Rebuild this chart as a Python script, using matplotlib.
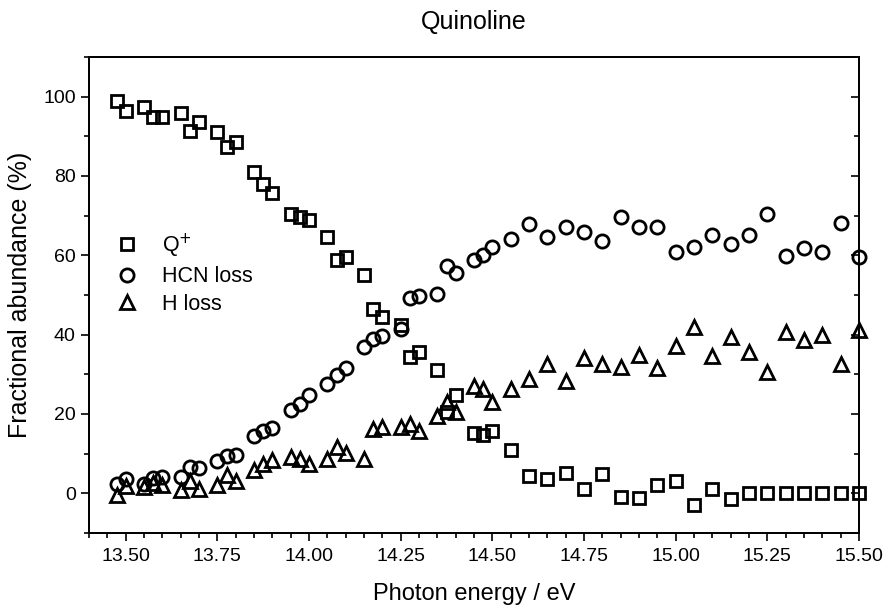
import matplotlib
matplotlib.use("Agg")
import matplotlib.pyplot as plt
from matplotlib.ticker import MultipleLocator, FormatStrFormatter

plt.rcParams['font.family'] = ['Liberation Sans', 'DejaVu Sans']

# photon energies (eV)
energy = [13.475, 13.50, 13.55, 13.575, 13.60, 13.65, 13.675, 13.70, 13.75, 13.775,
          13.80, 13.85, 13.875, 13.90, 13.95, 13.975, 14.00, 14.05, 14.075, 14.10,
          14.15, 14.175, 14.20, 14.25, 14.275, 14.30, 14.35, 14.375, 14.40, 14.45,
          14.475, 14.50, 14.55, 14.60, 14.65, 14.70, 14.75, 14.80, 14.85, 14.90,
          14.95, 15.00, 15.05, 15.10, 15.15, 15.20, 15.25, 15.30, 15.35, 15.40,
          15.45, 15.50]

q_plus = [98.8, 96.4, 97.5, 95.0, 95.0, 96.0, 91.3, 93.6, 91.0, 87.2,
          88.5, 80.9, 78.0, 75.7, 70.4, 69.7, 69.0, 64.6, 58.9, 59.5,
          55.1, 46.5, 44.5, 42.5, 34.3, 35.6, 31.2, 20.6, 24.7, 15.3,
          14.8, 15.7, 10.9, 4.3, 3.7, 5.2, 1.1, 4.8, -0.9, -1.3,
          2.0, 3.1, -3.0, 1.0, -1.5, 0.0, 0.0, 0.0, 0.0, 0.0,
          0.0, 0.0]

hcn_loss = [2.4, 3.5, 2.3, 3.9, 4.2, 4.1, 6.6, 6.4, 8.1, 9.4,
            9.6, 14.4, 15.7, 16.5, 21.1, 22.6, 24.8, 27.6, 29.8, 31.6,
            36.9, 38.9, 39.6, 41.5, 49.3, 49.7, 50.3, 57.2, 55.6, 58.7,
            60.0, 62.1, 64.0, 67.9, 64.6, 67.1, 65.8, 63.6, 69.6, 67.2,
            67.2, 60.9, 62.0, 65.1, 62.9, 65.2, 70.3, 59.8, 61.9, 60.8,
            68.2, 59.5]

h_loss = [-0.3, 1.8, 1.7, 2.7, 2.2, 0.8, 3.2, 1.2, 2.2, 4.6,
          3.0, 5.8, 7.3, 8.5, 9.2, 8.6, 7.3, 8.7, 11.8, 10.1,
          8.6, 16.1, 16.8, 16.8, 17.4, 15.7, 19.5, 23.1, 20.6, 27.0,
          26.2, 23.1, 26.4, 28.7, 32.6, 28.4, 34.0, 32.5, 31.9, 34.8,
          31.5, 37.1, 41.9, 34.7, 39.4, 35.7, 30.6, 40.6, 38.6, 40.0,
          32.7, 41.3]

fig = plt.figure(figsize=(8.88, 6.08), dpi=100)
ax = fig.add_axes([89/888, 1 - 533/608, (859 - 89)/888, (533 - 57)/608])

style = dict(linestyle='none', markerfacecolor='none', markeredgecolor='black',
             markeredgewidth=2.0, clip_on=False)
ax.plot(energy, q_plus, marker='s', markersize=8.5, label='Q$^{+}$', **style)
ax.plot(energy, hcn_loss, marker='o', markersize=9.5, label='HCN loss', **style)
ax.plot(energy, h_loss, marker='^', markersize=10.5, label='H loss', **style)

ax.set_xlim(13.4, 15.5)
ax.set_ylim(-10, 110)
ax.xaxis.set_major_locator(MultipleLocator(0.25))
ax.xaxis.set_minor_locator(MultipleLocator(0.05))
ax.xaxis.set_major_formatter(FormatStrFormatter('%.2f'))
ax.yaxis.set_major_locator(MultipleLocator(20))
ax.yaxis.set_minor_locator(MultipleLocator(10))

ax.tick_params(axis='x', which='both', direction='out', top=False)
ax.tick_params(axis='y', which='both', direction='out', right=False)
ax.tick_params(which='major', length=6, width=1.2, labelsize=14)
ax.tick_params(which='minor', length=3.5, width=1.2)
ax.tick_params(axis='x', pad=5)

# inward ticks on the right spine
ax2 = ax.twinx()
ax2.set_ylim(ax.get_ylim())
ax2.yaxis.set_major_locator(MultipleLocator(20))
ax2.yaxis.set_minor_locator(MultipleLocator(10))
ax2.tick_params(axis='y', which='both', direction='in', labelright=False)
ax2.tick_params(which='major', length=6, width=1.2)
ax2.tick_params(which='minor', length=3.5, width=1.2)

for a in (ax, ax2):
    for sp in a.spines.values():
        sp.set_linewidth(1.3)

ax.set_xlabel('Photon energy / eV', fontsize=17, labelpad=13)
ax.set_ylabel('Fractional abundance (%)', fontsize=18, labelpad=8)
ax.set_title('Quinoline', fontsize=18, pad=20)

ax.legend(loc='upper left', bbox_to_anchor=(-0.012, 0.688), frameon=False,
          fontsize=15.5, handletextpad=0.6, labelspacing=0.3, borderaxespad=0.8)

fig.savefig('out.png', dpi=100)
